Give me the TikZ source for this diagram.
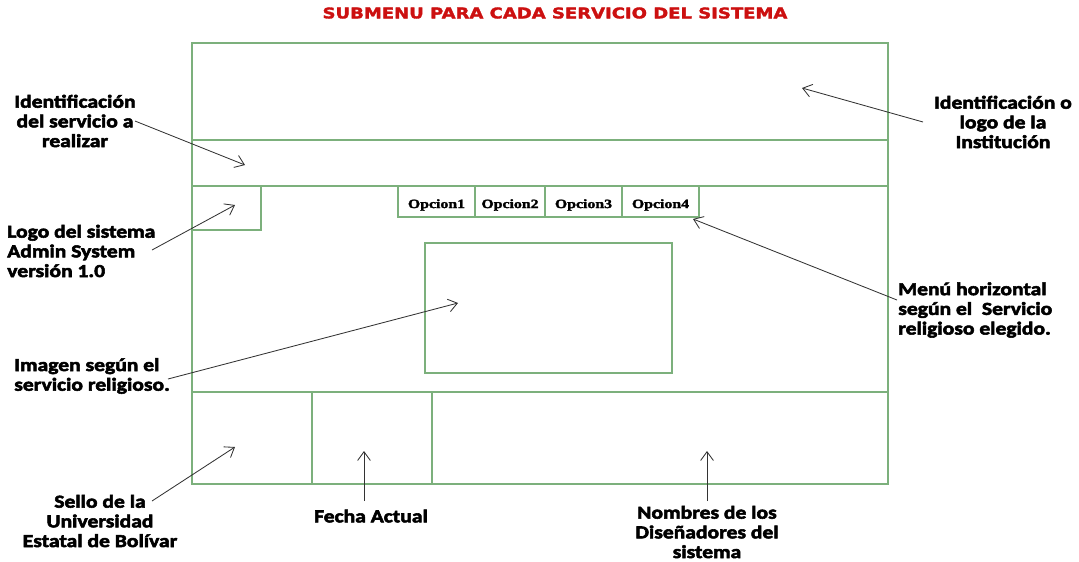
\documentclass[tikz,border=0pt]{standalone}
\usepackage{fontspec}
\setmainfont{Carlito}
\newfontfamily\lblfont[FakeStretch=1.18,FakeBold=3]{Carlito}
\newfontfamily\titlefont[FakeStretch=1.22,FakeBold=2.2]{DejaVu Sans}
\newfontfamily\optfont[FakeStretch=1.25,FakeBold=2]{Liberation Serif}
\usetikzlibrary{arrows.meta}
\definecolor{framegreen}{RGB}{124,176,124}
\definecolor{titlered}{RGB}{204,16,16}
\begin{document}
\begin{tikzpicture}[x=0.025cm,y=-0.025cm,
  box/.style={draw=framegreen,line width=2.1pt},
  lbl/.style={font=\lblfont\fontsize{13}{14}\selectfont\bfseries,align=center,inner sep=0pt},
  opt/.style={font=\optfont\fontsize{9}{10}\selectfont\bfseries,inner sep=0pt},
  pointer/.style={draw=black!80,line width=0.6pt,-{Straight Barb[length=2.2mm,width=3.2mm]}}]
\useasboundingbox (0,0) rectangle (1079,561);
% title
\node[font=\titlefont\fontsize{10.5}{12}\selectfont\bfseries,text=titlered,inner sep=0pt] (title) at (555,13) {SUBMENU PARA CADA SERVICIO DEL SISTEMA};
% frame
\draw[box] (192,43) rectangle (888,484);
\draw[box] (192,140) -- (888,140);
\draw[box] (192,186) -- (888,186);
\draw[box] (192,392) -- (888,392);
\draw[box] (192,230) -- (261,230) -- (261,186);
\draw[box] (398,186) -- (398,217) -- (699,217) -- (699,186);
\draw[box] (475,186) -- (475,217);
\draw[box] (545,186) -- (545,217);
\draw[box] (622,186) -- (622,217);
\draw[box] (425,243) rectangle (672,373);
\draw[box] (312,392) -- (312,484);
\draw[box] (432,392) -- (432,484);
% menu options
\node[opt] (o1) at (436.5,205) {Opcion1};
\node[opt] (o2) at (510,205) {Opcion2};
\node[opt] (o3) at (583.5,205) {Opcion3};
\node[opt] (o4) at (660.5,205) {Opcion4};
% labels
\node[lbl] (l1) at (75,121) {Identificación\\del servicio a\\realizar};
\node[lbl,align=left,anchor=west] (l2) at (7,251) {Logo del sistema\\Admin System\\versión 1.0};
\node[lbl,align=left,anchor=west] (l3) at (14,376) {Imagen según el\\servicio religioso.};
\node[lbl] (l4) at (100,521) {Sello de la\\Universidad\\Estatal de Bolívar};
\node[lbl] (l5) at (371,516) {Fecha Actual};
\node[lbl] (l6) at (707,532) {Nombres de los\\Diseñadores del\\sistema};
\node[lbl,align=left,anchor=west] (l7) at (898,310) {Menú horizontal\\según el\ \ Servicio\\religioso elegido.};
\node[lbl] (l8) at (1003,122) {Identificación o\\logo de la\\Institución};
% arrow coordinates
\coordinate (s1) at (135,121); \coordinate (e1) at (245,165);
\coordinate (s2) at (152,250); \coordinate (e2) at (235,205);
\coordinate (s3) at (168,379); \coordinate (e3) at (458,303);
\coordinate (s4) at (152,501); \coordinate (e4) at (235,447);
\coordinate (s5) at (364,501); \coordinate (e5) at (364,451);
\coordinate (s6) at (707,501); \coordinate (e6) at (707,451);
\coordinate (s7) at (897,300); \coordinate (e7) at (693,219);
\coordinate (s8) at (923,122); \coordinate (e8) at (802,88);
\foreach \i in {1,...,8} { \draw[pointer] (s\i) -- (e\i); }
\end{tikzpicture}
\end{document}
